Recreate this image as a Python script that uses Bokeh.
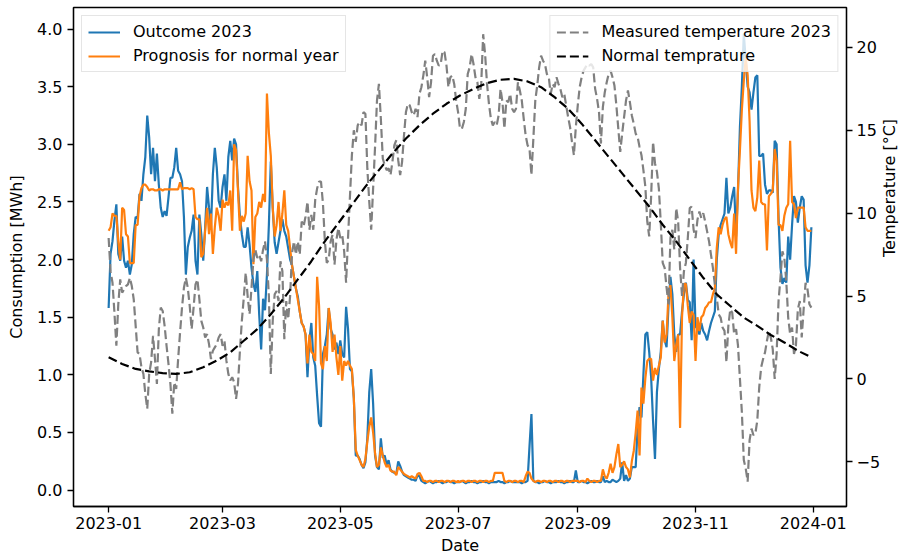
import math
import pandas as pd
from bokeh.plotting import figure
from bokeh.models import (ColumnDataSource, Range1d, LinearAxis, FixedTicker,
                          DatetimeTickFormatter, NumeralTickFormatter,
                          CustomJSTickFormatter, Legend, LegendItem)
from bokeh.embed import file_html
from bokeh.resources import INLINE

# ---------------- data (one inner list per month, daily values) ----------------
outcome_2023 = [
    [1.58, 2.05, 2.16, 2.34, 2.48, 2.05, 1.99, 2.20, 1.99, 1.93, 1.99, 1.87, 1.96, 2.22, 2.37, 2.36,
     2.57, 2.51, 2.74, 2.89, 3.25, 3.06, 2.74, 2.97, 2.68, 2.92, 2.65, 2.45, 2.37, 2.42, 2.38],
    [2.54, 2.71, 2.71, 2.80, 2.97, 2.77, 2.74, 2.68, 2.37, 1.87, 2.11, 2.19, 2.25, 2.39, 1.99, 1.87,
     2.39, 2.22, 1.99, 2.28, 2.63, 2.45, 2.28, 2.74, 2.97, 2.80, 2.51, 2.45],
    [2.63, 2.74, 2.51, 2.89, 3.03, 2.86, 3.05, 3.00, 2.63, 2.37, 2.22, 2.11, 2.11, 2.28, 2.13, 1.93,
     1.79, 1.72, 1.90, 1.52, 1.22, 1.66, 1.56, 1.87, 2.30, 2.85, 2.45, 2.15, 2.05, 2.15, 2.25],
    [2.35, 2.25, 2.20, 2.10, 2.00, 1.95, 1.85, 1.75, 1.68, 1.55, 1.45, 1.42, 1.35, 0.98, 1.30, 1.45,
     1.15, 1.08, 0.82, 0.58, 0.55, 1.18, 1.25, 1.35, 1.58, 1.40, 1.35, 1.22, 1.28, 1.18],
    [1.30, 1.18, 1.15, 1.59, 1.40, 1.05, 1.03, 0.80, 0.30, 0.30, 0.27, 0.22, 0.19, 0.24, 0.45, 0.85,
     1.05, 0.75, 0.30, 0.20, 0.18, 0.45, 0.28, 0.30, 0.22, 0.26, 0.18, 0.16, 0.15, 0.14, 0.25],
    [0.21, 0.16, 0.13, 0.12, 0.11, 0.10, 0.09, 0.09, 0.08, 0.13, 0.12, 0.08, 0.07, 0.06, 0.07, 0.08,
     0.07, 0.06, 0.07, 0.07, 0.08, 0.07, 0.06, 0.07, 0.07, 0.08, 0.07, 0.07, 0.06, 0.07],
    [0.07, 0.07, 0.08, 0.07, 0.06, 0.07, 0.07, 0.08, 0.07, 0.07, 0.06, 0.07, 0.07, 0.08, 0.07, 0.07,
     0.06, 0.07, 0.07, 0.07, 0.07, 0.08, 0.07, 0.07, 0.06, 0.07, 0.07, 0.08, 0.07, 0.07, 0.07],
    [0.07, 0.07, 0.06, 0.07, 0.07, 0.08, 0.38, 0.66, 0.08, 0.07, 0.07, 0.06, 0.07, 0.07, 0.08, 0.07,
     0.07, 0.06, 0.07, 0.07, 0.07, 0.08, 0.07, 0.07, 0.06, 0.07, 0.07, 0.08, 0.07, 0.07, 0.17],
    [0.07, 0.07, 0.08, 0.07, 0.07, 0.06, 0.07, 0.08, 0.07, 0.07, 0.08, 0.07, 0.07, 0.12, 0.07, 0.08,
     0.07, 0.07, 0.09, 0.08, 0.07, 0.08, 0.10, 0.24, 0.08, 0.13, 0.08, 0.10, 0.20, 0.20],
    [0.20, 0.54, 0.72, 0.63, 1.00, 1.35, 1.37, 1.20, 0.98, 0.60, 0.27, 0.85, 1.05, 1.20, 1.47, 1.30,
     1.24, 1.60, 1.85, 1.70, 1.35, 1.20, 1.35, 1.35, 1.55, 1.70, 1.80, 1.65, 1.63, 1.30, 2.00],
    [1.42, 1.40, 1.35, 1.45, 1.38, 1.35, 1.30, 1.38, 1.45, 1.50, 1.55, 2.00, 2.22, 2.30, 2.35, 2.40,
     2.71, 2.40, 2.45, 2.55, 2.63, 2.20, 2.60, 3.15, 3.50, 3.96, 3.73, 3.50, 3.45, 3.30],
    [3.45, 3.58, 3.60, 2.90, 2.90, 2.92, 2.65, 2.57, 2.60, 2.60, 2.58, 3.03, 3.00, 2.36, 1.93, 1.79,
     1.84, 1.80, 2.20, 2.00, 2.30, 2.55, 2.50, 2.32, 2.45, 2.55, 2.52, 1.95, 1.80, 1.95, 2.28],
]

prognosis_normal_year = [
    [2.25, 2.28, 2.40, 2.38, 2.38, 2.16, 2.00, 2.45, 2.43, 2.22, 2.20, 1.97, 1.97, 1.97, 2.30, 2.30,
     2.55, 2.62, 2.65, 2.65, 2.63, 2.60, 2.61, 2.61, 2.60, 2.60, 2.61, 2.61, 2.60, 2.61, 2.61],
    [2.61, 2.61, 2.61, 2.61, 2.61, 2.61, 2.67, 2.61, 2.62, 2.62, 2.62, 2.61, 2.62, 2.61, 2.37, 2.35,
     2.35, 2.02, 2.05, 2.25, 2.45, 2.22, 2.40, 2.05, 2.28, 2.45, 2.38, 2.25],
    [2.52, 2.45, 2.50, 2.47, 2.60, 2.25, 3.00, 2.95, 2.60, 2.25, 2.38, 2.33, 2.40, 2.90, 2.68, 2.60,
     1.96, 2.37, 2.40, 2.50, 2.45, 2.57, 2.50, 3.44, 3.10, 2.90, 2.45, 2.20, 2.30, 2.50, 2.25],
    [2.40, 2.60, 2.30, 2.25, 2.10, 1.95, 1.85, 1.75, 1.65, 1.55, 1.45, 1.42, 1.35, 1.10, 1.35, 1.20,
     1.18, 1.12, 1.85, 1.60, 1.10, 1.05, 1.25, 1.12, 1.58, 1.45, 1.20, 1.35, 1.15, 1.00],
    [1.25, 0.95, 1.12, 1.08, 1.12, 1.08, 1.05, 0.80, 0.35, 0.30, 0.26, 0.22, 0.20, 0.27, 0.42, 0.55,
     0.63, 0.50, 0.32, 0.20, 0.22, 0.37, 0.30, 0.24, 0.20, 0.22, 0.17, 0.16, 0.16, 0.13, 0.20],
    [0.18, 0.16, 0.14, 0.13, 0.12, 0.11, 0.12, 0.11, 0.10, 0.14, 0.15, 0.12, 0.08, 0.08, 0.07, 0.08,
     0.08, 0.07, 0.08, 0.08, 0.07, 0.08, 0.08, 0.07, 0.08, 0.08, 0.07, 0.08, 0.08, 0.07],
    [0.08, 0.07, 0.08, 0.08, 0.07, 0.08, 0.08, 0.07, 0.08, 0.08, 0.07, 0.08, 0.08, 0.07, 0.08, 0.08,
     0.07, 0.08, 0.08, 0.15, 0.15, 0.15, 0.15, 0.15, 0.08, 0.07, 0.08, 0.08, 0.07, 0.08, 0.08],
    [0.07, 0.08, 0.08, 0.07, 0.12, 0.16, 0.15, 0.10, 0.08, 0.07, 0.08, 0.08, 0.07, 0.08, 0.08, 0.07,
     0.08, 0.08, 0.07, 0.08, 0.08, 0.07, 0.08, 0.08, 0.07, 0.08, 0.08, 0.07, 0.08, 0.08, 0.08],
    [0.08, 0.07, 0.08, 0.08, 0.07, 0.10, 0.08, 0.07, 0.08, 0.08, 0.07, 0.08, 0.08, 0.18, 0.12, 0.10,
     0.15, 0.23, 0.15, 0.20, 0.31, 0.40, 0.20, 0.22, 0.25, 0.20, 0.18, 0.11, 0.25, 0.34],
    [0.50, 0.69, 0.30, 0.89, 0.75, 0.97, 1.12, 1.14, 1.14, 0.95, 1.06, 1.00, 1.08, 1.15, 1.47, 1.28,
     1.35, 1.70, 1.78, 1.50, 1.12, 1.26, 1.35, 0.54, 1.50, 1.79, 1.79, 1.60, 1.45, 1.55, 1.52],
    [1.12, 1.50, 1.38, 1.50, 1.52, 1.58, 1.60, 1.63, 1.63, 1.70, 1.75, 2.10, 2.28, 2.22, 2.30, 2.35,
     2.37, 2.22, 2.15, 2.10, 2.40, 2.05, 2.63, 2.95, 3.30, 3.55, 3.75, 3.60, 3.20, 2.60],
    [2.45, 2.42, 2.54, 2.86, 2.50, 2.48, 2.48, 2.08, 2.55, 2.57, 2.60, 2.96, 2.86, 2.30, 2.30, 2.25,
     2.38, 2.45, 2.48, 3.03, 2.50, 2.48, 2.36, 2.45, 2.45, 2.45, 2.45, 2.28, 2.25, 2.25, 2.25],
]

measured_temperature_2023 = [
    [8.5, 6.5, 5.8, 4.0, 2.0, 4.5, 6.0, 5.2, 5.4, 5.6, 5.7, 6.1, 5.6, 4.8, 3.2, 1.6,
     1.5, 0.7, 0.3, -0.9, -1.8, 0.3, 1.0, 2.6, 1.2, -0.3, 3.0, 4.3, 4.1, 3.2, 2.0],
    [0.9, -0.3, -2.1, -0.2, -0.6, 1.2, 2.8, 4.3, 5.5, 6.1, 5.5, 4.4, 3.0, 4.3, 5.7, 6.0,
     4.8, 3.5, 3.1, 2.5, 2.7, 2.1, 1.2, 1.7, 1.9, 2.1, 2.5, 2.7],
    [2.0, 2.3, 1.1, 0.3, -0.1, 0.1, -0.2, -1.2, -0.3, 1.7, 3.5, 4.9, 6.4, 5.0, 3.9, 5.5,
     7.2, 7.8, 7.3, 7.5, 7.1, 7.8, 8.3, 7.2, 5.0, 0.3, 3.5, 5.1, 5.3, 4.7, 7.1],
    [6.5, 2.4, 4.7, 3.6, 5.0, 7.6, 8.3, 7.5, 8.3, 7.5, 9.5, 9.2, 9.8, 10.7, 9.0, 9.9,
     9.0, 10.8, 11.5, 11.9, 11.9, 10.6, 8.3, 7.0, 7.2, 8.3, 8.7, 6.9, 8.4, 9.1],
    [8.5, 8.7, 7.7, 5.8, 8.5, 11.0, 13.5, 15.0, 14.3, 15.3, 15.5, 15.3, 16.1, 16.0, 12.7, 10.7,
     9.0, 11.5, 14.0, 16.8, 17.8, 15.7, 13.3, 12.9, 12.6, 12.7, 12.3, 13.1, 14.1, 14.4, 13.2],
    [12.3, 13.1, 14.7, 16.1, 16.6, 16.5, 16.1, 15.9, 16.3, 15.8, 17.2, 17.6, 18.3, 19.2, 18.2, 17.0,
     17.9, 19.5, 19.6, 19.2, 18.9, 19.0, 19.8, 19.7, 18.9, 17.6, 18.2, 18.3, 17.8, 16.8],
    [16.1, 15.1, 15.1, 15.5, 16.3, 18.4, 18.8, 19.6, 19.0, 18.2, 17.9, 16.9, 17.8, 20.8, 19.6, 17.8,
     16.6, 15.7, 15.3, 15.5, 15.3, 15.9, 17.5, 16.7, 15.1, 16.8, 16.7, 17.2, 16.3, 16.1, 16.3],
    [17.9, 17.4, 16.8, 15.7, 14.7, 14.1, 13.9, 12.3, 14.5, 16.8, 17.7, 18.8, 19.5, 19.2, 19.0, 18.4,
     18.2, 17.2, 17.8, 17.6, 18.2, 17.8, 17.5, 17.0, 17.2, 16.5, 15.8, 15.2, 14.3, 13.5, 15.2],
    [16.5, 17.6, 18.2, 18.6, 18.8, 19.0, 18.9, 19.0, 18.8, 17.5, 16.9, 16.1, 14.2, 16.4, 17.3, 17.9,
     18.4, 18.6, 18.2, 17.7, 16.5, 15.1, 13.7, 14.8, 15.8, 16.8, 17.4, 16.7, 15.9, 15.4],
    [14.8, 14.6, 14.0, 13.5, 12.6, 11.6, 9.5, 8.6, 11.0, 14.3, 13.0, 12.5, 11.5, 9.4, 7.0, 6.7,
     5.5, 4.5, 8.5, 9.0, 7.8, 10.3, 9.5, 6.7, 5.0, 6.5, 7.0, 8.5, 10.3, 10.4, 9.0],
    [8.5, 9.6, 10.1, 9.7, 10.0, 9.5, 8.9, 8.3, 7.5, 6.7, 5.7, 4.9, 3.9, 3.7, 3.1, 2.9,
     1.0, 3.2, 4.2, 4.0, 2.7, 3.0, 2.0, 0.0, -2.0, -4.9, -5.4, -6.2, -3.7, -3.0],
    [-3.4, -3.3, -2.5, -0.5, 0.7, 1.2, 1.6, 2.3, 2.9, 2.5, 1.8, 0.0, 1.5, 4.7, 6.1, 7.7,
     7.3, 5.9, 3.7, 2.7, 3.1, 1.5, 2.0, 4.2, 4.7, 2.5, 4.2, 5.8, 5.4, 4.5, 4.3],
]

# normal temperature, one value per week starting 2023-01-01
normal_temperature_weekly = [
    1.3, 0.9, 0.6, 0.45, 0.35, 0.3, 0.4, 0.7, 1.1, 1.6, 2.3, 3.0, 3.9, 4.9, 6.0, 7.1, 8.3, 9.4,
    10.5, 11.6, 12.6, 13.6, 14.5, 15.3, 16.0, 16.6, 17.1, 17.5, 17.85, 18.05, 18.1, 17.95, 17.6, 17.0,
    16.3, 15.4, 14.4, 13.4, 12.4, 11.4, 10.4, 9.3, 8.3, 7.2, 6.1, 5.1, 4.4, 3.7, 3.2, 2.65, 2.2,
    1.7, 1.3,
]

x_tick_labels = ["2023-01", "2023-03", "2023-05", "2023-07", "2023-09", "2023-11", "2024-01"]
y_left_ticks = [0.0, 0.5, 1.0, 1.5, 2.0, 2.5, 3.0, 3.5, 4.0]
y_right_ticks = [-5, 0, 5, 10, 15, 20]

# ---------------- helpers ----------------
def month_series(month_lists):
    dates, vals = [], []
    for m, v in enumerate(month_lists, start=1):
        dates.extend(pd.date_range(f"2023-{m:02d}-01", periods=len(v), freq="D"))
        vals.extend(v)
    return ColumnDataSource(data=dict(date=dates, value=vals))

src_out = month_series(outcome_2023)
src_prog = month_series(prognosis_normal_year)
src_meas = month_series(measured_temperature_2023)
src_norm = ColumnDataSource(data=dict(
    date=list(pd.date_range("2023-01-01", periods=len(normal_temperature_weekly), freq="7D")),
    value=normal_temperature_weekly))

FONT = "DejaVu Sans"
FS = "16px"

x_start = pd.Timestamp("2023-01-01") - pd.Timedelta(days=18.2)
x_end = pd.Timestamp("2023-12-31") + pd.Timedelta(days=18.2)

p = figure(width=911, height=558, x_axis_type="datetime", output_backend="svg",
           toolbar_location=None,
           x_range=Range1d(x_start, x_end), y_range=Range1d(-0.142, 4.187),
           min_border_left=73, min_border_right=59, min_border_top=7, min_border_bottom=52)
p.extra_y_ranges = {"temp": Range1d(-7.70, 22.41)}

p.xgrid.visible = False
p.ygrid.visible = False
p.outline_line_color = "black"
p.outline_line_width = 1.3
p.background_fill_color = "white"
p.border_fill_color = "white"

r_out = p.line("date", "value", source=src_out, line_color="#1f77b4", line_width=2.2)
r_prog = p.line("date", "value", source=src_prog, line_color="#ff7f0e", line_width=2.2)
r_meas = p.line("date", "value", source=src_meas, line_color="gray", line_width=2.2,
                line_dash="9 4", y_range_name="temp")
r_norm = p.line("date", "value", source=src_norm, line_color="black", line_width=2.2,
                line_dash="9 4", y_range_name="temp")

right_axis = LinearAxis(y_range_name="temp", axis_label="Temperature [°C]")
p.add_layout(right_axis, "right")

def style_axis(ax):
    ax.axis_line_color = "black"
    ax.axis_line_width = 1.3
    ax.major_tick_line_color = "black"
    ax.major_tick_line_width = 1.3
    ax.major_tick_out = 6
    ax.major_tick_in = 0
    ax.minor_tick_out = 0
    ax.minor_tick_in = 0
    ax.major_label_text_font = FONT
    ax.major_label_text_font_size = FS
    ax.major_label_text_color = "black"
    ax.axis_label_text_font = FONT
    ax.axis_label_text_font_size = FS
    ax.axis_label_text_font_style = "normal"
    ax.axis_label_text_color = "black"

xaxis = p.xaxis[0]
style_axis(xaxis)
xaxis.axis_label = "Date"
xaxis.ticker = FixedTicker(ticks=[pd.Timestamp(t + "-01").value / 1e6 for t in x_tick_labels])
fmt = "%Y-%m"
xaxis.formatter = DatetimeTickFormatter(microseconds=fmt, milliseconds=fmt, seconds=fmt,
                                        minsec=fmt, minutes=fmt, hourmin=fmt, hours=fmt,
                                        days=fmt, months=fmt, years=fmt)
xaxis.major_label_standoff = 4
xaxis.axis_label_standoff = 4

yaxis = p.yaxis[0]
style_axis(yaxis)
yaxis.axis_label = "Consumption [MWh]"
yaxis.ticker = FixedTicker(ticks=y_left_ticks)
yaxis.formatter = NumeralTickFormatter(format="0.0")
yaxis.major_label_standoff = 5
yaxis.axis_label_standoff = 8

style_axis(right_axis)
right_axis.ticker = FixedTicker(ticks=y_right_ticks)
right_axis.formatter = CustomJSTickFormatter(
    code="return tick < 0 ? '\\u2212' + Math.abs(tick) : String(tick);")
right_axis.major_label_standoff = 4
right_axis.axis_label_standoff = 6
right_axis.axis_label_orientation = math.pi / 2

def make_legend(items, loc):
    lg = Legend(items=items, location=loc)
    lg.label_text_font = FONT
    lg.label_text_font_size = FS
    lg.label_text_color = "black"
    lg.glyph_width = 32
    lg.glyph_height = 16
    lg.label_height = 16
    lg.label_standoff = 13
    lg.padding = 6
    lg.spacing = 5
    lg.margin = 8
    lg.border_line_color = "#cccccc"
    lg.border_line_width = 1
    lg.background_fill_color = "white"
    lg.background_fill_alpha = 0.8
    return lg

leg_left = make_legend([LegendItem(label="Outcome 2023", renderers=[r_out]),
                        LegendItem(label="Prognosis for normal year", renderers=[r_prog])],
                       "top_left")
leg_right = make_legend([LegendItem(label="Measured temperature 2023", renderers=[r_meas]),
                         LegendItem(label="Normal temprature", renderers=[r_norm])],
                        "top_right")
p.add_layout(leg_left)
p.add_layout(leg_right)

open("out.html", "w").write(file_html(p, INLINE))
